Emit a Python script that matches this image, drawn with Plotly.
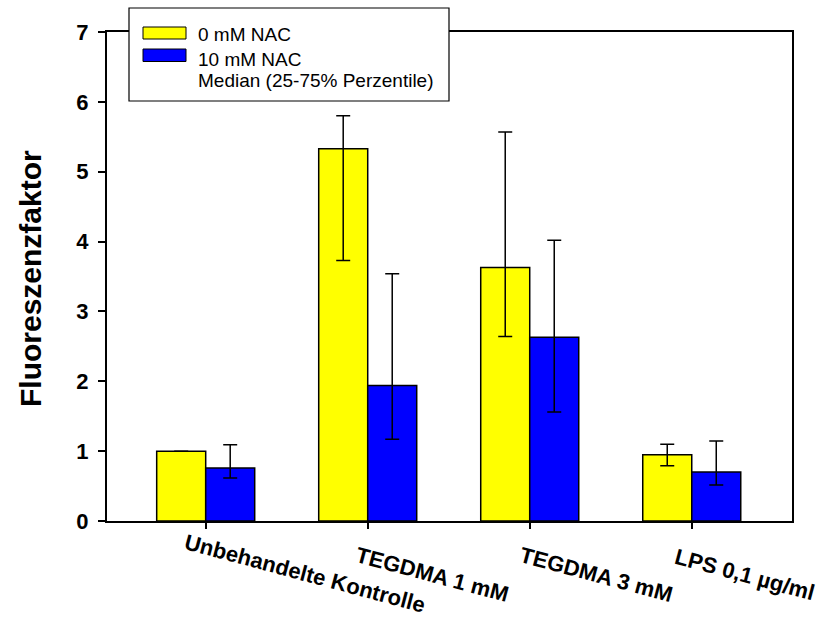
import plotly.graph_objects as go

categories = ["Unbehandelte Kontrolle", "TEGDMA 1 mM", "TEGDMA 3 mM", "LPS 0,1 µg/ml"]
median_0 = [1.0, 5.33, 3.63, 0.95]
q25_0 = [None, 3.73, 2.64, 0.79]
q75_0 = [None, 5.80, 5.57, 1.10]
median_10 = [0.76, 1.94, 2.63, 0.70]
q25_10 = [0.615, 1.17, 1.56, 0.515]
q75_10 = [1.09, 3.54, 4.02, 1.145]
y_ticks = [0, 1, 2, 3, 4, 5, 6, 7]
legend_labels = ["0 mM NAC", "10 mM NAC", "Median (25-75% Perzentile)"]
y_title = "Fluoreszenzfaktor"

W, H = 823, 622
L, R, T, B = 107, 792, 32, 521


def px_x(p):
    return (p - L) / (R - L)


def px_y(p):
    return (B - p) / (B - T)


def err_plus(med, hi):
    return [None if h is None else h - m for m, h in zip(med, hi)]


def err_minus(med, lo):
    return [None if l is None else m - l for m, l in zip(med, lo)]


xs = list(range(len(categories)))
FONT = "Liberation Sans, Arial, Helvetica, sans-serif"

fig = go.Figure()
for med, lo, hi, col, name in [
    (median_0, q25_0, q75_0, "#FFFF00", legend_labels[0]),
    (median_10, q25_10, q75_10, "#0000FF", legend_labels[1]),
]:
    fig.add_trace(go.Bar(
        x=xs, y=med, name=name,
        marker=dict(color=col, line=dict(color="black", width=1.5)),
        error_y=dict(type="data", symmetric=False,
                     array=err_plus(med, hi), arrayminus=err_minus(med, lo),
                     color="black", thickness=1.5, width=7),
        showlegend=False,
    ))

unit = (R - L) / 4.228
x0 = (L - 205.7) / unit
fig.update_layout(
    width=W, height=H,
    margin=dict(l=L, r=W - R, t=T, b=H - B, pad=0),
    paper_bgcolor="white", plot_bgcolor="white",
    barmode="group", bargap=0.395, bargroupgap=0,
    font=dict(family=FONT, color="black"),
    xaxis=dict(range=[x0, x0 + 4.228], tickvals=xs, showticklabels=False,
               ticks="outside", ticklen=6, tickwidth=1.5, tickcolor="black",
               showline=True, linecolor="black", linewidth=2, mirror=True,
               showgrid=False, zeroline=False, fixedrange=True),
    yaxis=dict(range=[0, 7], tickvals=y_ticks, ticktext=["<b>%d</b>" % v for v in y_ticks],
               ticks="outside", ticklen=7, tickwidth=1.5, tickcolor="black",
               ticklabelstandoff=5,
               tickfont=dict(size=22, family=FONT, color="black"),
               showline=True, linecolor="black", linewidth=2, mirror=True,
               showgrid=False, zeroline=False, fixedrange=True),
)

annotations = []
# y-axis title
annotations.append(dict(text="<b>%s</b>" % y_title, xref="paper", yref="paper",
                        x=px_x(30), y=px_y(279), xanchor="center", yanchor="middle",
                        textangle=-90, showarrow=False,
                        font=dict(size=30, family=FONT, color="black")))
# rotated category labels
label_centers = [(305, 573), (432.5, 574), (596, 574), (744.5, 574.5)]
for cat, (cx, cy) in zip(categories, label_centers):
    annotations.append(dict(text="<b>%s</b>" % cat, xref="paper", yref="paper",
                            x=px_x(cx), y=px_y(cy), xanchor="center", yanchor="middle",
                            textangle=15, showarrow=False, borderpad=0,
                            font=dict(size=22, family=FONT, color="black")))
# legend texts
for txt, cy in zip(legend_labels, [33, 58, 79.5]):
    annotations.append(dict(text=txt, xref="paper", yref="paper",
                            x=px_x(196), y=px_y(cy + 1), xanchor="left", yanchor="middle",
                            showarrow=False,
                            font=dict(size=19, family=FONT, color="black")))
fig.update_layout(annotations=annotations)

shapes = [
    dict(type="rect", xref="paper", yref="paper", layer="above",
         x0=px_x(129), x1=px_x(449), y0=px_y(101), y1=px_y(8),
         fillcolor="white", line=dict(color="black", width=1.2)),
    dict(type="rect", xref="paper", yref="paper", layer="above",
         x0=px_x(143), x1=px_x(186), y0=px_y(39), y1=px_y(27),
         fillcolor="#FFFF00", line=dict(color="black", width=1)),
    dict(type="rect", xref="paper", yref="paper", layer="above",
         x0=px_x(143), x1=px_x(186), y0=px_y(61.5), y1=px_y(49),
         fillcolor="#0000FF", line=dict(color="black", width=1)),
]
fig.update_layout(shapes=shapes)

fig.write_html("out.html")
